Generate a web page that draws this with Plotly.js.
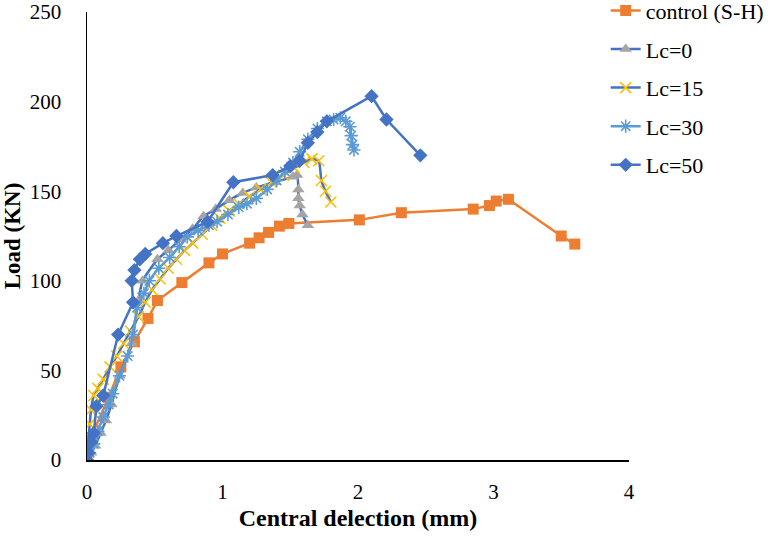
<!DOCTYPE html>
<html>
<head>
<meta charset="utf-8">
<script src="https://cdn.plot.ly/plotly-3.0.1.min.js"></script>
<style>
  html, body { margin: 0; padding: 0; background: #ffffff; }
  #chart { width: 780px; height: 538px; }
</style>
</head>
<body>
<div id="chart"></div>
<script>
// Load vs. central deflection curves for the control beam and four Lc values
const controlX = [0, 0.01, 0.02, 0.16, 0.25, 0.35, 0.45, 0.52, 0.70, 0.90, 1.00, 1.20, 1.27, 1.34, 1.42, 1.49, 2.01, 2.32, 2.85, 2.97, 3.02, 3.11, 3.50, 3.60];
const controlY = [0, 5, 11, 35, 52, 66, 79, 89, 99, 110, 115, 121, 124, 127, 130.5, 132, 134, 138, 140, 142, 144.5, 145.5, 125, 120.5];

const lc0X = [0, 0.03, 0.06, 0.10, 0.14, 0.18, 0.24, 0.33, 0.38, 0.41, 0.52, 0.60, 0.69, 0.78, 0.86, 0.95, 1.05, 1.15, 1.25, 1.38, 1.52, 1.55, 1.56, 1.56, 1.57, 1.59, 1.63];
const lc0Y = [0, 4, 8, 15, 22, 31, 47, 65, 89, 100, 112, 117, 123, 129, 136, 140, 145, 149, 152, 155, 158, 159, 151, 146, 142, 137, 131];

const lc15X = [0, 0.01, 0.02, 0.03, 0.05, 0.08, 0.12, 0.17, 0.22, 0.27, 0.32, 0.38, 0.43, 0.48, 0.54, 0.60, 0.66, 0.72, 0.78, 0.85, 0.92, 0.98, 1.05, 1.12, 1.20, 1.28, 1.36, 1.45, 1.53, 1.60, 1.66, 1.71, 1.73, 1.76, 1.80];
const lc15Y = [0, 10, 20, 28, 36, 40, 45, 52, 58, 65, 72, 80, 88, 95, 101, 107, 112, 117, 121, 126, 131, 135, 139, 143, 147, 151, 155, 159, 163, 166, 168, 167, 156, 150, 144];

const lc30X = [0, 0.02, 0.05, 0.08, 0.12, 0.16, 0.19, 0.24, 0.30, 0.34, 0.37, 0.42, 0.46, 0.53, 0.61, 0.68, 0.74, 0.82, 0.90, 0.96, 1.04, 1.12, 1.18, 1.25, 1.33, 1.40, 1.46, 1.52, 1.57, 1.63, 1.70, 1.77, 1.82, 1.87, 1.91, 1.94, 1.95, 1.96, 1.97];
const lc30Y = [0, 4, 9, 16, 24, 31, 37, 47, 58, 70, 85, 93, 100, 107, 113, 119, 124.5, 128, 131, 133, 137, 141, 143, 146, 151, 156, 161, 166, 172, 179, 185, 189, 190, 191, 189, 186, 181, 176, 173];

const lc50X = [0, 0.01, 0.03, 0.05, 0.07, 0.12, 0.23, 0.34, 0.33, 0.35, 0.39, 0.43, 0.56, 0.66, 0.89, 1.08, 1.37, 1.50, 1.57, 1.63, 1.70, 1.77, 2.10, 2.21, 2.46];
const lc50Y = [0, 4, 10, 15, 30, 36, 70, 88, 100, 106, 112, 115, 121, 125, 133, 155, 159, 164, 167, 177, 183, 189, 203, 190, 170];

const seriesNames = ['control (S-H)', 'Lc=0', 'Lc=15', 'Lc=30', 'Lc=50'];
const xTicks = [0, 1, 2, 3, 4];
const yTicks = [0, 50, 100, 150, 200, 250];

const serif = 'Liberation Serif, Times New Roman, serif';

const traces = [
  {
    x: controlX, y: controlY, name: seriesNames[0], legendgroup: 'g0',
    mode: 'lines+markers', type: 'scatter',
    line: { color: '#ED7D31', width: 2.5 },
    marker: { symbol: 'square', size: 11, color: '#ED7D31' }
  },
  {
    x: lc0X, y: lc0Y, name: seriesNames[1], legendgroup: 'g1',
    mode: 'lines+markers', type: 'scatter',
    line: { color: '#4472C4', width: 2.5, shape: 'spline', smoothing: 0.5 },
    marker: { symbol: 'triangle-up', size: 11, color: '#A5A5A5' }
  },
  {
    x: lc15X, y: lc15Y, name: seriesNames[2], legendgroup: 'g2',
    mode: 'lines+markers', type: 'scatter',
    line: { color: '#4472C4', width: 2.5, shape: 'spline', smoothing: 0.5 },
    marker: { symbol: 'x-thin-open', size: 11, color: '#FFC000', line: { color: '#FFC000', width: 1.6 } }
  },
  {
    x: lc30X, y: lc30Y, name: seriesNames[3], legendgroup: 'g3',
    mode: 'lines+markers', type: 'scatter',
    line: { color: '#5B9BD5', width: 2.5, shape: 'spline', smoothing: 0.5 },
    marker: { symbol: 'asterisk-open', size: 11, color: '#5B9BD5', line: { color: '#5B9BD5', width: 1.6 } }
  },
  {
    x: lc50X, y: lc50Y, name: seriesNames[4], legendgroup: 'g4',
    mode: 'lines+markers', type: 'scatter',
    line: { color: '#4472C4', width: 2.5 },
    marker: { symbol: 'diamond', size: 11, color: '#4472C4' }
  }
];

const layout = {
  width: 780,
  height: 538,
  margin: { l: 87, r: 151, t: 12, b: 78, autoexpand: false },
  paper_bgcolor: '#ffffff',
  plot_bgcolor: '#ffffff',
  font: { family: serif, size: 21, color: '#000000' },
  showlegend: true,
  legend: {
    x: 0.957, xanchor: 'left',
    y: 1.05, yanchor: 'top',
    bgcolor: 'rgba(0,0,0,0)',
    font: { family: serif, size: 22, color: '#000000' },
    traceorder: 'grouped',
    tracegroupgap: 7
  },
  xaxis: {
    range: [0, 4],
    tickvals: xTicks,
    ticktext: xTicks.map(String),
    tickfont: { family: serif, size: 21, color: '#000000' },
    showgrid: false,
    zeroline: false,
    showline: true,
    linecolor: '#000000',
    linewidth: 1.5,
    ticks: '',
    ticklabelstandoff: 12,
    title: { text: '<b>Central delection (mm)</b>', font: { family: serif, size: 24, color: '#000000' }, standoff: 6 }
  },
  yaxis: {
    range: [0, 250],
    tickvals: yTicks,
    ticktext: yTicks.map(String),
    tickfont: { family: serif, size: 21, color: '#000000' },
    showgrid: false,
    zeroline: false,
    showline: true,
    linecolor: '#000000',
    linewidth: 1.5,
    ticks: '',
    ticklabelstandoff: 20,
    title: { text: '<b>Load (KN)</b>', font: { family: serif, size: 23, color: '#000000' }, standoff: 2 }
  }
};

Plotly.newPlot('chart', traces, layout, { displayModeBar: false, staticPlot: true });
</script>
</body>
</html>
